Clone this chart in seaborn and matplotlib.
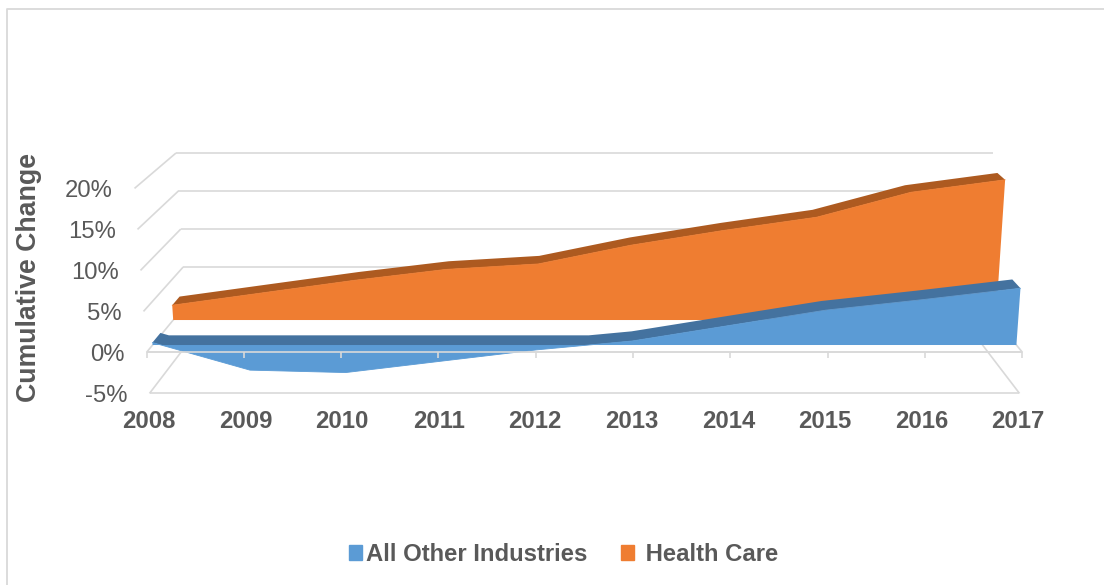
import numpy as np
import pandas as pd
import matplotlib
matplotlib.use('Agg')
import matplotlib.pyplot as plt
from matplotlib.lines import Line2D
from matplotlib.patches import Patch
from matplotlib.transforms import ScaledTranslation
import seaborn as sns

years = [2008, 2009, 2010, 2011, 2012, 2013, 2014, 2015, 2016, 2017]
other_industries = [0.3, -3.1, -3.4, -2.0, -0.6, 0.5, 2.4, 4.3, 5.6, 7.0]
health_care = [1.9, 3.5, 5.1, 6.5, 7.2, 9.6, 11.5, 13.2, 16.4, 18.0]
pct_ticks = [-5, 0, 5, 10, 15, 20]
pct_labels = ['-5%', '0%', '5%', '10%', '15%', '20%']

GRID = '#d9d9d9'
TEXT = '#595959'
BLUE = '#5b9bd5'
BLUE_DARK = '#44729f'
ORANGE = '#ef7d31'
ORANGE_DARK = '#ad5a20'

sns.set_theme(style='white')
plt.rcParams['font.family'] = ['Liberation Sans', 'DejaVu Sans']

W, H = 1104, 585
fig = plt.figure(figsize=(W / 100, H / 100), dpi=100)
# axes covers the front plane of the fake 3d box: 2008-2017 and -5%..20%
x_left, x_right = 147, 1021.8
y_top, y_bottom = 188.4, 393.4
ax = fig.add_axes([x_left / W, 1 - y_bottom / H, (x_right - x_left) / W, (y_bottom - y_top) / H])
ax.set_xlim(0, 9)
ax.set_ylim(-5, 20)


# depth d: 0 is the front of the box, 1 the back wall. returns axes data coords
def project(k, p, d):
    k = np.asarray(k, dtype=float)
    p = np.asarray(p, dtype=float)
    half_front = 435 + 0.6 * (p + 5)
    half_back = 396.5 + 0.48 * (p + 5)
    half = half_front + (half_back - half_front) * d
    px = 584.5 + (k / 9 * 2 - 1) * half
    py = 352.4 - 47.4 * d - (8.2 - 0.6 * d) * p
    return (px - 147) / 97.2, (352.4 - py) / 8.2


def seg(k0, p0, d0, k1, p1, d1, z=1):
    x0, y0 = project(k0, p0, d0)
    x1, y1 = project(k1, p1, d1)
    ax.plot([x0, x1], [y0, y1], color=GRID, lw=1.2, clip_on=False, zorder=z, solid_capstyle='butt')


# grid on left wall and back wall
for p in pct_ticks:
    seg(0, p, 0, 0, p, 1)
    seg(0, p, 1, 9, p, 1)
for p in [-5, 0]:
    seg(0, p, 0, 9, p, 0)
    seg(9, p, 0, 9, p, 1)


def add_zero_crossings(idx, vals):
    new_idx, new_vals = [idx[0]], [vals[0]]
    for i in range(1, len(idx)):
        if vals[i - 1] * vals[i] < 0:
            new_idx.append(idx[i - 1] + vals[i - 1] / (vals[i - 1] - vals[i]))
            new_vals.append(0.0)
        new_idx.append(idx[i])
        new_vals.append(vals[i])
    return np.array(new_idx), np.array(new_vals)


def draw_area(vals, d_front, d_back, face, dark, z):
    idx = np.arange(len(vals), dtype=float)
    vals = np.array(vals, dtype=float)
    fx, fy = project(idx, vals, d_front)
    bx, by = project([9, 0], [0, 0], d_front)
    ax.fill(np.r_[fx, bx], np.r_[fy, by], color=face, lw=0, clip_on=False, zorder=z)
    # top surface stays on the baseline where the values go negative
    ci, cv = add_zero_crossings(idx, vals)
    cv = np.maximum(cv, 0)
    tx0, ty0 = project(ci, cv, d_front)
    tx1, ty1 = project(ci, cv, d_back)
    ax.fill(np.r_[tx0, tx1[::-1]], np.r_[ty0, ty1[::-1]], color=dark, lw=0, clip_on=False, zorder=z + 1)
    edge = pd.DataFrame({'x': fx, 'y': fy})
    sns.lineplot(data=edge, x='x', y='y', color=face, lw=0.6, ax=ax, legend=False,
                 sort=False, errorbar=None, clip_on=False, zorder=z + 1)


draw_area(health_care, 0.683, 0.87, ORANGE, ORANGE_DARK, 3)
draw_area(other_industries, 0.156, 0.36, BLUE, BLUE_DARK, 6)

# zero axis line and ticks sit on top of the blue area
seg(0, 0, 0, 9, 0, 0, z=9)
for k in range(len(years)):
    x0, y0 = project(k, 0, 0)
    ax.plot([x0, x0], [y0, y0 - 0.65], color=GRID, lw=1.2, clip_on=False, zorder=9, solid_capstyle='butt')

# tick labels
label_pos = [(2 + 96.55 * i) / 97.2 for i in range(len(years))]
ax.set_xticks(label_pos, [str(y) for y in years])
ax.set_yticks(pct_ticks, pct_labels)
ax.tick_params(axis='x', length=0, pad=12, labelsize=17.2, labelcolor=TEXT)
ax.tick_params(axis='y', length=0, pad=14, labelsize=17.2, labelcolor=TEXT)
for lab in ax.get_xticklabels():
    lab.set_fontweight('bold')
for p, lab in zip(pct_ticks, ax.get_yticklabels()):
    lab.set_transform(lab.get_transform() + ScaledTranslation(-0.6 * (p + 5) / 100, 0, fig.dpi_scale_trans))
sns.despine(ax=ax, left=True, bottom=True)
ax.patch.set_alpha(0)

ax.set_xlabel('')
ax.set_ylabel('Cumulative Change', fontsize=19.3, fontweight='bold', color=TEXT)
ax.yaxis.set_label_coords((42 - x_left) / (x_right - x_left), (y_bottom - 277) / (y_bottom - y_top))

handles = [Patch(color=BLUE, label='All Other Industries'), Patch(color=ORANGE, label=' Health Care')]
leg = fig.legend(handles=handles, ncol=2, loc='center', bbox_to_anchor=(563.5 / W, 1 - 554.5 / H),
                 frameon=False, fontsize=17.2, handlelength=0.55, handleheight=0.55,
                 handletextpad=0.2, columnspacing=1.4, borderpad=0)
for t in leg.get_texts():
    t.set_fontweight('bold')
    t.set_color(TEXT)

# chart frame, only left and top edges are inside the picture
fig.add_artist(Line2D([6.8 / W, 6.8 / W, 1], [0, 1 - 9.4 / H, 1 - 9.4 / H], transform=fig.transFigure,
                      color=GRID, lw=1.3))

fig.savefig('out.png', dpi=100)
